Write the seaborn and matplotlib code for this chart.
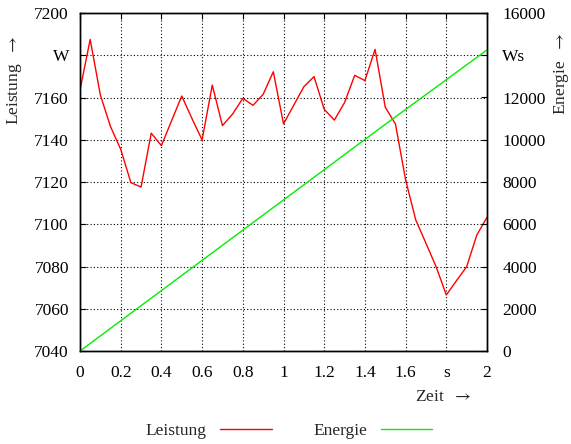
import matplotlib
matplotlib.use("Agg")
import matplotlib.pyplot as plt
import seaborn as sns
import pandas as pd

# Power measurement, sampled every 50 ms
zeit = [0.00, 0.05, 0.10, 0.15, 0.20, 0.25, 0.30, 0.35, 0.40, 0.45,
        0.50, 0.55, 0.60, 0.65, 0.70, 0.75, 0.80, 0.85, 0.90, 0.95,
        1.00, 1.05, 1.10, 1.15, 1.20, 1.25, 1.30, 1.35, 1.40, 1.45,
        1.50, 1.55, 1.60, 1.65, 1.70, 1.75, 1.80, 1.85, 1.90, 1.95, 2.00]
leistung = [7163.5, 7187.5, 7161.2, 7146.2, 7135.5, 7119.7, 7117.6, 7143.1, 7137.2, 7149.0,
            7160.7, 7150.1, 7139.9, 7165.9, 7146.7, 7152.2, 7159.6, 7156.3, 7161.5, 7172.2,
            7147.5, 7156.3, 7165.1, 7169.9, 7154.4, 7149.3, 7157.6, 7170.5, 7168.0, 7182.8,
            7155.4, 7147.5, 7121.0, 7102.0, 7091.0, 7079.9, 7066.5, 7073.3, 7079.9, 7094.9, 7103.3]

# Accumulated energy
zeit_energie = [0.0, 0.5, 1.0, 1.5, 2.0]
energie = [0, 3575, 7150, 10730, 14250]

x_ticks = [0, 0.2, 0.4, 0.6, 0.8, 1.0, 1.2, 1.4, 1.6, 1.8, 2.0]
x_tick_labels = ["0", "0.2", "0.4", "0.6", "0.8", "1", "1.2", "1.4", "1.6", "s", "2"]
p_ticks = [7040, 7060, 7080, 7100, 7120, 7140, 7160, 7180, 7200]
p_tick_labels = ["7040", "7060", "7080", "7100", "7120", "7140", "7160", "W", "7200"]
e_ticks = [0, 2000, 4000, 6000, 8000, 10000, 12000, 14000, 16000]
e_tick_labels = ["0", "2000", "4000", "6000", "8000", "10000", "12000", "Ws", "16000"]

sns.set_theme(style="white")
plt.rcParams["font.family"] = ["Liberation Serif", "DejaVu Serif"]
plt.rcParams["font.size"] = 12
plt.rcParams["mathtext.fontset"] = "stix"

df_p = pd.DataFrame({"Zeit": zeit, "Leistung": leistung})
df_e = pd.DataFrame({"Zeit": zeit_energie, "Energie": energie})

fig = plt.figure(figsize=(5.71, 4.44), dpi=100)
ax = fig.add_axes([80 / 571, 1 - 351 / 444, 407 / 571, 338 / 444])
ax2 = ax.twinx()

sns.lineplot(data=df_p, x="Zeit", y="Leistung", ax=ax, color="#ff0000",
             lw=1.0, label="Leistung")
sns.lineplot(data=df_e, x="Zeit", y="Energie", ax=ax2, color="#00ee00",
             lw=1.0, label="Energie")

ax.set_xlim(0, 2)
ax.set_ylim(7040, 7200)
ax2.set_ylim(0, 16000)

ax.set_xticks(x_ticks)
ax.set_xticklabels(x_tick_labels, fontsize=12.5)
ax.set_yticks(p_ticks)
ax.set_yticklabels(p_tick_labels, fontsize=12.5)
ax2.set_yticks(e_ticks)
ax2.set_yticklabels(e_tick_labels, fontsize=12.5)

ax.grid(True, color="black", linestyle=(0, (1, 2)), linewidth=0.8)
ax.tick_params(axis="x", direction="in", top=True, length=4, width=0.8,
               pad=10, colors="black", labelcolor="black")
ax.tick_params(axis="y", direction="in", left=True, right=False, length=4,
               width=0.8, pad=8, colors="black")
ax2.tick_params(axis="y", direction="in", right=True, length=4, width=0.8,
                pad=11, colors="black")

for a in (ax, ax2):
    for s in a.spines.values():
        s.set_color("black")
        s.set_linewidth(1.0)

ax.set_xlabel(r"Zeit  $\rightarrow$", fontsize=12.5, va="center")
ax.xaxis.set_label_coords(0.892, -0.136)
ax.set_ylabel(r"Leistung  $\rightarrow$", fontsize=12.5, va="center", ha="center")
ax.yaxis.set_label_coords(-0.160, 0.80)
ax2.set_ylabel(r"Energie  $\rightarrow$", fontsize=12.5, va="center", ha="center")
ax2.yaxis.set_label_coords(1.184, 0.82)

h1, l1 = ax.get_legend_handles_labels()
h2, l2 = ax2.get_legend_handles_labels()
for a in (ax, ax2):
    if a.get_legend() is not None:
        a.get_legend().remove()
fig.legend(h1 + h2, l1 + l2, loc="center", bbox_to_anchor=(0.506, 0.030),
           ncol=2, frameon=False, markerfirst=False, fontsize=12.5,
           handlelength=2.95, handletextpad=0.8, columnspacing=2.4)

fig.savefig("out.png", dpi=100)
